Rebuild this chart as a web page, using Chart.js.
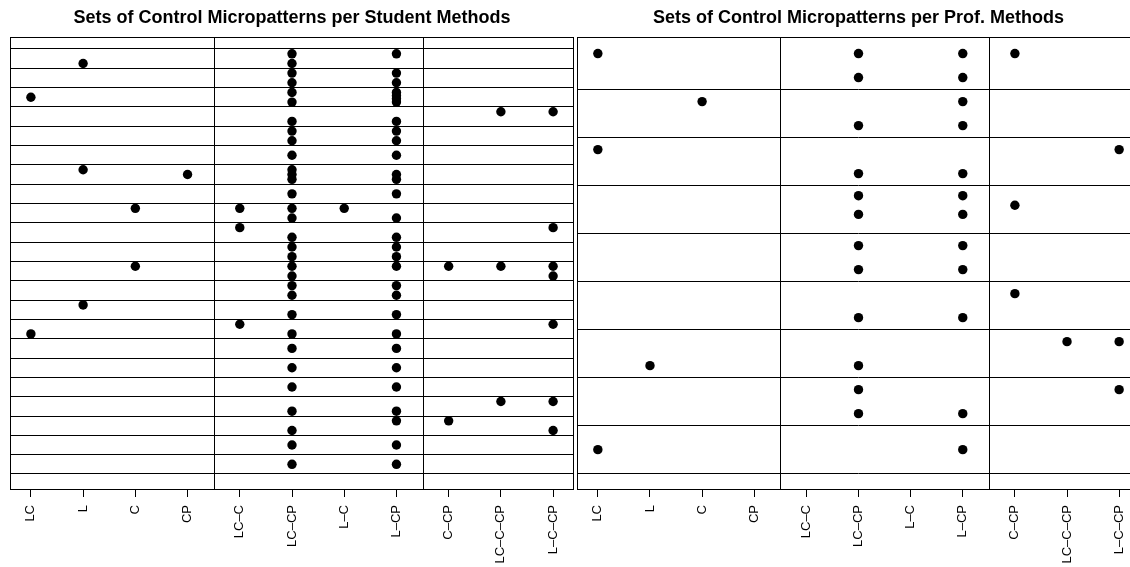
<!DOCTYPE html>
<html>
<head>
<meta charset="utf-8">
<script src="https://cdn.jsdelivr.net/npm/chart.js@4.4.1/dist/chart.umd.min.js"></script>
<style>
  html, body { margin: 0; padding: 0; background: #fff; overflow: hidden; }
  body { width: 1130px; height: 567px; position: relative; }
  #student { position: absolute; left: 0; top: 0; width: 582px; height: 567px; }
  #prof { position: absolute; left: 570px; top: 0; width: 580px; height: 567px; }
</style>
</head>
<body>
<canvas id="student" width="582" height="567"></canvas>
<canvas id="prof" width="580" height="567"></canvas>
<script>
// Sets of control micropatterns, one row band per method

var categories = ["LC", "L", "C", "CP", "LC–C", "LC–CP", "L–C", "L–CP", "C–CP", "LC–C–CP", "L–C–CP"];
var groupBreaks = [4.5, 8.5];

// y positions (band units, band m centred on m) for each category, student methods
var studentY = [
  [3.0, 15.25],
  [1.25, 6.75, 13.75],
  [8.75, 11.75],
  [7.0],
  [8.75, 9.75, 14.75],
  [0.75, 1.25, 1.75, 2.25, 2.75, 3.25, 4.25, 4.75, 5.25, 6.0, 6.75, 7.0, 7.25, 8.0, 8.75, 9.25,
   10.25, 10.75, 11.25, 11.75, 12.25, 12.75, 13.25, 14.25, 15.25, 16.0, 17.0, 18.0, 19.25, 20.25, 21.0, 22.0],
  [8.75],
  [0.75, 1.75, 2.25, 2.75, 2.92, 3.08, 3.25, 4.25, 4.75, 5.25, 6.0, 7.0, 7.25, 8.0, 9.25,
   10.25, 10.75, 11.25, 11.75, 12.75, 13.25, 14.25, 15.25, 16.0, 17.0, 18.0, 19.25, 19.75, 21.0, 22.0],
  [11.75, 19.75],
  [3.75, 11.75, 18.75],
  [3.75, 9.75, 11.75, 12.25, 14.75, 18.75, 20.25]
];
var studentBreaks = [0.5, 1.5, 2.5, 3.5, 4.5, 5.5, 6.5, 7.5, 8.5, 9.5, 10.5, 11.5,
                     12.5, 13.5, 14.5, 15.5, 16.5, 17.5, 18.5, 19.5, 20.5, 21.5, 22.5];
var studentRange = [-0.12, 23.33];

// prof methods
var profY = [
  [0.75, 2.75, 9.0],
  [7.25],
  [1.75],
  [],
  [],
  [0.75, 1.25, 2.25, 3.25, 3.71, 4.1, 4.75, 5.25, 6.25, 7.25, 7.75, 8.25],
  [],
  [0.75, 1.25, 1.75, 2.25, 3.25, 3.71, 4.1, 4.75, 5.25, 6.25, 8.25, 9.0],
  [0.75, 3.91, 5.75],
  [6.75],
  [2.75, 6.75, 7.75]
];
var profBreaks = [1.5, 2.5, 3.5, 4.5, 5.5, 6.5, 7.5, 8.5, 9.5];
var profRange = [0.405, 9.84];

var FONT = "'Liberation Sans', Arial, Helvetica, sans-serif";

// box round the plot and the vertical group separators
var framePlugin = {
  id: "frame",
  beforeDatasetsDraw: function(chart, args, opts) {
    var ctx = chart.ctx, a = chart.chartArea, xs = chart.scales.x;
    ctx.save();
    ctx.strokeStyle = "#000";
    ctx.lineWidth = 1;
    ctx.beginPath();
    opts.breaks.forEach(function(v) {
      var px = Math.round(xs.getPixelForValue(v)) + 0.5;
      ctx.moveTo(px, a.top);
      ctx.lineTo(px, a.bottom);
    });
    ctx.stroke();
    ctx.strokeRect(Math.round(a.left) + 0.5, Math.round(a.top) + 0.5,
                   Math.round(a.right - a.left) - 1, Math.round(a.bottom - a.top) - 1);
    ctx.restore();
  }
};

function toPoints(cols) {
  var pts = [];
  cols.forEach(function(ys, i) {
    ys.forEach(function(y) { pts.push({ x: i + 1, y: y }); });
  });
  return pts;
}

function makePanel(id, title, cols, breaks, range, padding) {
  return new Chart(document.getElementById(id), {
    type: "scatter",
    data: {
      datasets: [{
        data: toPoints(cols),
        pointRadius: 4.7,
        pointHoverRadius: 4.7,
        pointBackgroundColor: "#000",
        pointBorderWidth: 0
      }]
    },
    plugins: [framePlugin],
    options: {
      responsive: false,
      animation: false,
      events: [],
      layout: { padding: padding },
      plugins: {
        legend: { display: false },
        tooltip: { enabled: false },
        frame: { breaks: groupBreaks },
        title: {
          display: true,
          text: title,
          color: "#000",
          font: { family: FONT, size: 18, weight: "bold" },
          padding: { top: 7, bottom: 8.4 }
        }
      },
      scales: {
        x: {
          type: "linear",
          min: 0.6,
          max: 11.4,
          afterBuildTicks: function(scale) {
            scale.ticks = categories.map(function(c, i) { return { value: i + 1 }; });
          },
          afterFit: function(scale) { scale.height = 77; },
          border: { display: false },
          grid: { drawOnChartArea: false, drawTicks: true, tickLength: 7, color: "#000", lineWidth: 1 },
          ticks: {
            autoSkip: false,
            minRotation: 90,
            maxRotation: 90,
            padding: 8,
            color: "#000",
            font: { family: FONT, size: 13 },
            callback: function(v) { return categories[v - 1]; }
          }
        },
        y: {
          type: "linear",
          reverse: true,
          min: range[0],
          max: range[1],
          afterBuildTicks: function(scale) {
            scale.ticks = breaks.map(function(v) { return { value: v }; });
          },
          afterFit: function(scale) { scale.width = 0; },
          border: { display: false },
          grid: { drawTicks: false, color: "#000", lineWidth: 1 },
          ticks: { display: false }
        }
      }
    }
  });
}

makePanel("student", "Sets of Control Micropatterns per Student Methods",
          studentY, studentBreaks, studentRange, { left: 10, right: 8, top: 0, bottom: 0 });
makePanel("prof", "Sets of Control Micropatterns per Prof. Methods",
          profY, profBreaks, profRange, { left: 7, right: 10, top: 0, bottom: 0 });
</script>
</body>
</html>
